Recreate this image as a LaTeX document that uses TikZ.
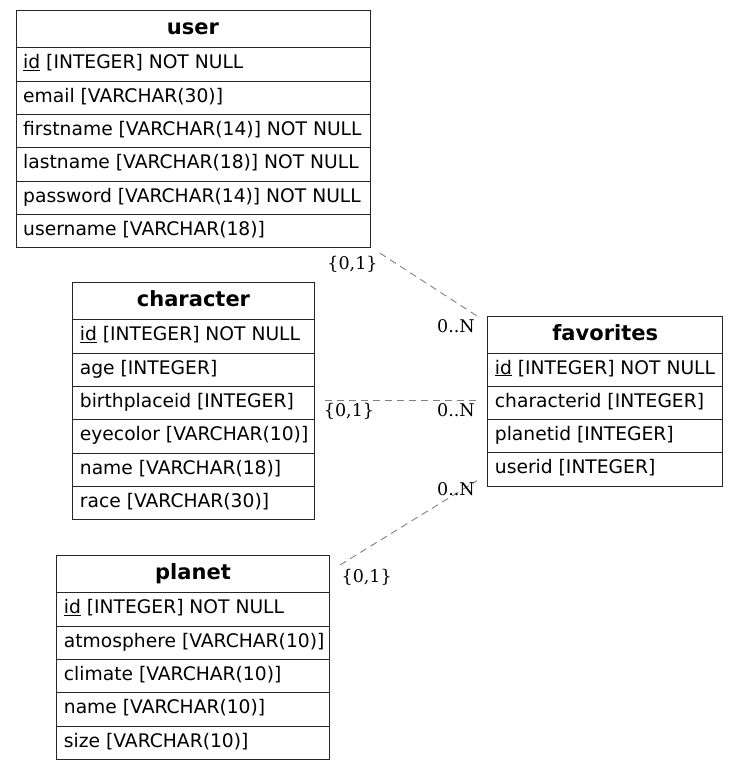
\documentclass[tikz,border=0pt]{standalone}
\usepackage{fontspec}
\setmainfont{DejaVu Sans}
\newfontfamily\lblfont{DejaVu Serif}
\usetikzlibrary{calc}
\tikzset{
  tbl/.style={draw=black!85, line width=1pt},
  tblbox/.style={tbl, anchor=north west, inner sep=0pt, outer sep=0pt},
  cell/.style={anchor=base west, inner sep=0pt, font=\fontsize{18.7}{20}\selectfont},
  ttl/.style={anchor=base, inner sep=0pt, font=\fontsize{21}{24}\selectfont\bfseries},
  lbl/.style={anchor=base, inner sep=0pt, font=\lblfont\fontsize{17.5}{20}\selectfont},
  rel/.style={draw=black!50, line width=0.9pt, dash pattern=on 7pt off 5pt},
}
\newcommand\pk[1]{\underline{#1}}
% name, x, y, width, nrows, title, rows
\newcommand\ertable[7]{%
  \node[tblbox, minimum width=#4pt, minimum height={37pt+#5*33.33pt}] (#1) at (#2,#3) {};
  \node[ttl] (#1-title) at ({#2+#4/2},{#3+24}) {#6};
  \foreach \rowtxt [count=\i] in {#7} {
    \draw[tbl] (#2,{#3+37+(\i-1)*33.33}) -- ++(#4,0);
    \node[cell] (#1-r\i) at ({#2+7},{#3+37+(\i-1)*33.33+21}) {\rowtxt};
  }
}
\begin{document}
\begin{tikzpicture}[x=1pt,y=-1pt]
\useasboundingbox (0,0) rectangle (739,770);

\ertable{user}{16}{10.7}{354}{6}{user}{{\pk{id} [INTEGER] NOT NULL},{email [VARCHAR(30)]},{firstname [VARCHAR(14)] NOT NULL},{lastname [VARCHAR(18)] NOT NULL},{password [VARCHAR(14)] NOT NULL},{username [VARCHAR(18)]}}
\ertable{character}{72.7}{282.7}{241.6}{6}{character}{{\pk{id} [INTEGER] NOT NULL},{age [INTEGER]},{birthplaceid [INTEGER]},{eyecolor [VARCHAR(10)]},{name [VARCHAR(18)]},{race [VARCHAR(30)]}}
\ertable{favorites}{487.7}{316}{235}{4}{favorites}{{\pk{id} [INTEGER] NOT NULL},{characterid [INTEGER]},{planetid [INTEGER]},{userid [INTEGER]}}
\ertable{planet}{56.7}{555.7}{272.6}{5}{planet}{{\pk{id} [INTEGER] NOT NULL},{atmosphere [VARCHAR(10)]},{climate [VARCHAR(10)]},{name [VARCHAR(10)]},{size [VARCHAR(10)]}}

% connector ends
\coordinate (e1a) at ($(user.south east)+(10,5.5)$);
\coordinate (e1b) at ($(favorites.north west)+(-10.7,0)$);
\coordinate (e2a) at ($(character.north east)+(10.3,118)$);
\coordinate (e2b) at ($(favorites.north west)+(-11,84.7)$);
\coordinate (e3a) at ($(planet.north east)+(10.7,9.3)$);
\coordinate (e3b) at ($(favorites.south west)+(-10.7,-5.7)$);

\draw[rel] (e1a) -- (e1b);
\draw[rel] (e2a) -- (e2b);
\draw[rel] (e3a) -- (e3b);

\node[lbl] (l1a) at (352.5,269) {\{0,1\}};
\node[lbl] (l1b) at (456,332) {0..N};
\node[lbl] (l2a) at (349,416) {\{0,1\}};
\node[lbl] (l2b) at (456,416) {0..N};
\node[lbl] (l3b) at (456,495.5) {0..N};
\node[lbl] (l3a) at (366.7,582) {\{0,1\}};
\end{tikzpicture}
\end{document}
